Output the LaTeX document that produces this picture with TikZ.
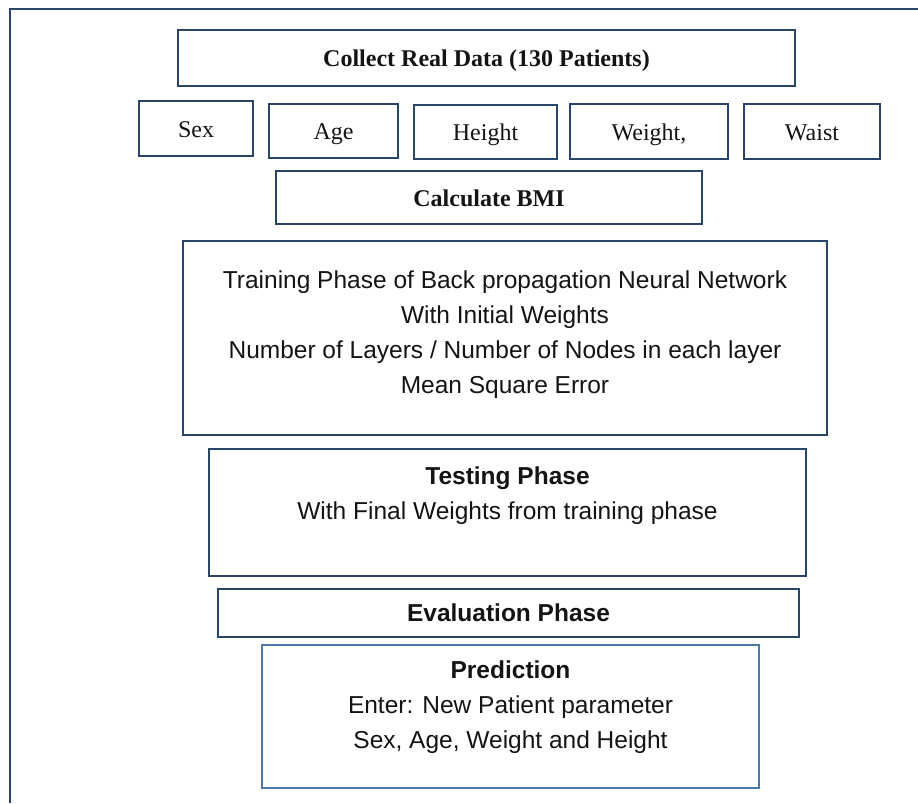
\documentclass[tikz,border=0pt]{standalone}
\usepackage{fontspec}
\setmainfont{Liberation Serif}
\newfontfamily\arialfont{Liberation Sans}
\definecolor{Navy}{HTML}{27446B}
\definecolor{PaleNavy}{HTML}{4A79AC}
\definecolor{Ink}{HTML}{141414}

\begin{document}
\begin{tikzpicture}[x=1pt,y=-1pt,
  box/.style={draw=Navy,line width=2.9pt,inner sep=0pt,text=Ink},
  serif/.style={font=\fontsize{24}{30}\selectfont,text height=19pt,text depth=2pt},
  sans/.style={font=\arialfont\fontsize{24.5}{35}\selectfont,align=center,text=Ink}]
  \useasboundingbox (0,0) rectangle (918,803);
  % open frame round the chart
  \draw[Navy,line width=2.8pt] (10,803) -- (10,9) -- (918,9);
  % data collection
  \node[box,serif,minimum width=617,minimum height=56] (collect) at (486.5,58) {\textbf{Collect Real Data (130 Patients)}};
  \node[box,serif,minimum width=114,minimum height=55] (sex) at (196,128.5) {Sex};
  \node[box,serif,minimum width=129,minimum height=54] (age) at (333.5,131) {Age};
  \node[box,serif,minimum width=143,minimum height=54] (height) at (485.5,132) {Height};
  \node[box,serif,minimum width=158,minimum height=55] (weight) at (649,131.5) {Weight,};
  \node[box,serif,minimum width=136,minimum height=55] (waist) at (812,131.5) {Waist};
  \node[box,serif,minimum width=426,minimum height=53] (bmi) at (489,197.5) {\textbf{Calculate BMI}};
  % network phases
  \node[box,minimum width=644,minimum height=194] (train) at (505,338) {};
  \node[sans,yshift=3pt] (trainTxt) at (train) {Training Phase of Back propagation Neural Network\\With Initial Weights\\Number of Layers / Number of Nodes in each layer\\Mean Square Error};
  \node[box,minimum width=597,minimum height=127] (test) at (507.5,512.5) {};
  \node[sans,yshift=17pt] (testTxt) at (test) {\textbf{Testing Phase}\\With Final Weights from training phase};
  \node[box,sans,minimum width=581,minimum height=48] (eval) at (508.5,613) {\textbf{Evaluation Phase}};
  \node[box,draw=PaleNavy,minimum width=497,minimum height=143] (predict) at (510.5,716.5) {};
  \node[sans,yshift=9pt] (predictTxt) at (predict) {\textbf{Prediction}\\Enter: New Patient parameter\\Sex, Age, Weight and Height};
\end{tikzpicture}
\end{document}
